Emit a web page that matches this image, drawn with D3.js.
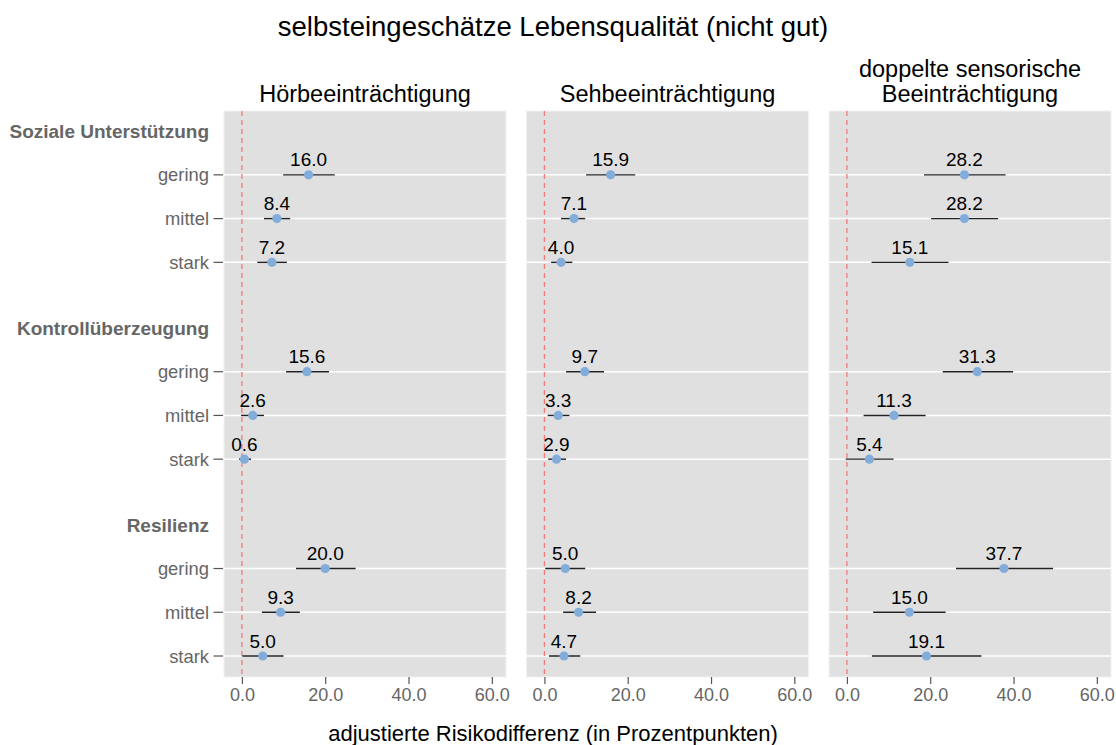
<!DOCTYPE html>
<html>
<head>
<meta charset="utf-8">
<script src="https://cdn.jsdelivr.net/npm/d3@7"></script>
<style>
  html, body { margin: 0; padding: 0; background: #ffffff; }
  svg { display: block; font-family: "Liberation Sans", Arial, Helvetica, sans-serif; }
</style>
</head>
<body>
<svg id="chart" width="1116" height="745"></svg>
<script>
// ---- data ----
const panels = ["Hörbeeinträchtigung", "Sehbeeinträchtigung", "doppelte sensorische\nBeeinträchtigung"];
const groups = ["Soziale Unterstützung", "Kontrollüberzeugung", "Resilienz"];
const levels = ["gering", "mittel", "stark"];
const xTicks = [0, 20, 40, 60];

// order per panel: [group0 gering, mittel, stark, group1 ..., group2 ...]
const estimates = [
  [16.0, 8.4, 7.2, 15.6, 2.6, 0.6, 20.0, 9.3, 5.0],
  [15.9, 7.1, 4.0, 9.7, 3.3, 2.9, 5.0, 8.2, 4.7],
  [28.2, 28.2, 15.1, 31.3, 11.3, 5.4, 37.7, 15.0, 19.1]
];
const lower = [
  [9.9, 5.3, 3.7, 10.6, -0.2, -0.7, 13.0, 4.8, 0.1],
  [10.0, 4.0, 1.6, 5.2, 0.8, 0.9, 0.2, 4.5, 1.1],
  [18.5, 20.2, 5.9, 23.0, 4.0, -0.3, 26.2, 6.3, 6.0]
];
const upper = [
  [22.3, 11.6, 10.8, 20.9, 5.3, 2.2, 27.3, 13.9, 10.0],
  [21.8, 9.8, 6.7, 14.3, 6.0, 5.2, 9.8, 12.4, 8.6],
  [38.1, 36.3, 24.4, 39.9, 18.9, 11.2, 49.5, 23.7, 32.3]
];

const title = "selbsteingeschätze Lebensqualität (nicht gut)";
const xTitle = "adjustierte Risikodifferenz (in Prozentpunkten)";

// ---- layout ----
const svg = d3.select("#chart");
const panelTop = 111, panelBottom = 677;
const panelW = 282, panelGap = 20.5, firstLeft = 224;
const groupStep = 4.5;

const y = d3.scaleLinear().domain([-0.46, 12.48]).range([panelTop, panelBottom]);
const rowPos = (g, l) => g * groupStep + 1 + l;

const rows = [];
groups.forEach((g, gi) => levels.forEach((lv, li) => rows.push({ g: gi, l: li, level: lv, pos: rowPos(gi, li) })));

// title
svg.append("text")
  .attr("x", 553).attr("y", 36)
  .attr("text-anchor", "middle")
  .attr("font-size", 27.5).attr("fill", "#000")
  .text(title);

// y-axis labels (left)
groups.forEach((g, gi) => {
  svg.append("text")
    .attr("x", 209).attr("y", y(gi * groupStep))
    .attr("dy", "0.36em")
    .attr("text-anchor", "end")
    .attr("font-size", 19).attr("font-weight", "bold").attr("fill", "#666")
    .text(g);
});
rows.forEach(r => {
  svg.append("text")
    .attr("x", 209).attr("y", y(r.pos))
    .attr("dy", "0.36em")
    .attr("text-anchor", "end")
    .attr("font-size", 18.4).attr("fill", "#666")
    .text(r.level);
  svg.append("line")
    .attr("x1", 213.5).attr("x2", firstLeft - 1)
    .attr("y1", y(r.pos)).attr("y2", y(r.pos))
    .attr("stroke", "#555").attr("stroke-width", 1.2);
});

panels.forEach((p, pi) => {
  const left = firstLeft + pi * (panelW + panelGap);
  const x = d3.scaleLinear().domain([-4.3, 63.4]).range([left, left + panelW]);
  const gp = svg.append("g");

  // panel background
  gp.append("rect")
    .attr("x", left).attr("y", panelTop)
    .attr("width", panelW).attr("height", panelBottom - panelTop)
    .attr("fill", "#e0e0e0")
    .attr("stroke", "#f2f2f2").attr("stroke-width", 1);

  // grid lines
  rows.forEach(r => {
    gp.append("line")
      .attr("x1", left).attr("x2", left + panelW)
      .attr("y1", y(r.pos)).attr("y2", y(r.pos))
      .attr("stroke", "#ffffff").attr("stroke-width", 1.5);
  });

  // zero reference line
  gp.append("line")
    .attr("x1", x(0)).attr("x2", x(0))
    .attr("y1", panelTop).attr("y2", panelBottom)
    .attr("stroke", "#f47a7a").attr("stroke-width", 1.3)
    .attr("stroke-dasharray", "5,4");

  // strip title
  const lines = p.split("\n");
  lines.forEach((ln, i) => {
    gp.append("text")
      .attr("x", left + panelW / 2)
      .attr("y", 102 - (lines.length - 1 - i) * 25)
      .attr("text-anchor", "middle")
      .attr("font-size", 23.5).attr("fill", "#000")
      .text(ln);
  });

  // x axis
  const ax = gp.append("g")
    .attr("transform", `translate(0,${panelBottom})`)
    .call(d3.axisBottom(x).tickValues(xTicks).tickFormat(d3.format(".1f")).tickSize(7).tickPadding(4));
  ax.select(".domain").remove();
  ax.selectAll(".tick line").attr("stroke", "#555").attr("stroke-width", 1.2);
  ax.selectAll(".tick text")
    .attr("font-size", 18).attr("fill", "#666")
    .attr("font-family", "\"Liberation Sans\", Arial, sans-serif");

  // error bars
  rows.forEach((r, i) => {
    gp.append("line")
      .attr("x1", x(lower[pi][i])).attr("x2", x(upper[pi][i]))
      .attr("y1", y(r.pos)).attr("y2", y(r.pos))
      .attr("stroke", "#222").attr("stroke-width", 1.4);
  });
  // points
  rows.forEach((r, i) => {
    gp.append("circle")
      .attr("cx", x(estimates[pi][i])).attr("cy", y(r.pos))
      .attr("r", 4.6)
      .attr("fill", "#82acda");
  });
  // value labels
  rows.forEach((r, i) => {
    gp.append("text")
      .attr("x", x(estimates[pi][i])).attr("y", y(r.pos) - 8.5)
      .attr("text-anchor", "middle")
      .attr("font-size", 19).attr("fill", "#000")
      .text(d3.format(".1f")(estimates[pi][i]));
  });
});

// x-axis title
svg.append("text")
  .attr("x", 553).attr("y", 741)
  .attr("text-anchor", "middle")
  .attr("font-size", 22).attr("fill", "#000")
  .text(xTitle);
</script>
</body>
</html>
